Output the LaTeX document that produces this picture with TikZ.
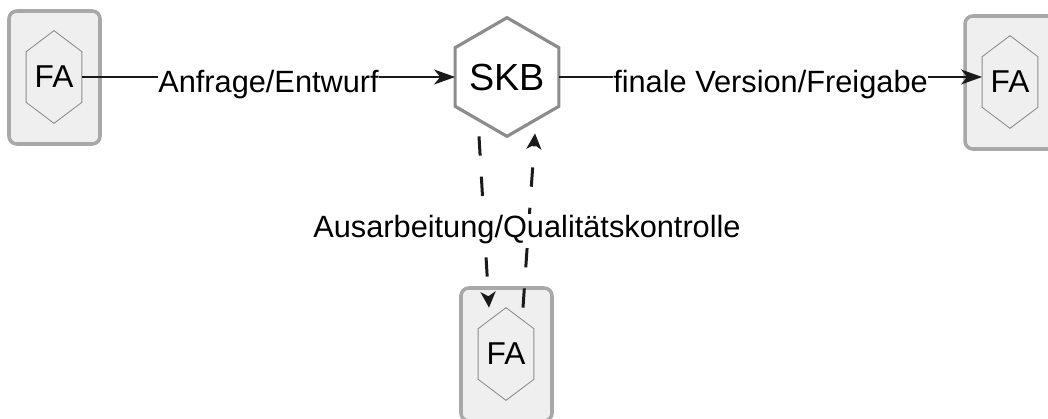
\documentclass[tikz,border=0pt]{standalone}
\usepackage{fontspec}
\setsansfont{Liberation Sans}
\usetikzlibrary{arrows.meta,calc,backgrounds}
\definecolor{boxF}{HTML}{EFEFEF}
\definecolor{boxB}{HTML}{A8A8A8}
\definecolor{hexB}{HTML}{8C8C8C}
\definecolor{edgeC}{HTML}{1A1A1A}

\begin{document}
\begin{tikzpicture}[x=0.02cm, y=-0.02cm, font=\sffamily,
  fabox/.style={fill=boxF, draw=boxB, line width=2pt, rounded corners=4.5pt},
  fahex/.style={draw=hexB, line width=0.5pt},
  skbhex/.style={draw=hexB, line width=1.8pt, fill=white},
  fatext/.style={minimum width=1.1cm, minimum height=1.84cm, inner sep=0pt,
    font=\sffamily\fontsize{18}{18}\selectfont},
  skbtext/.style={minimum width=2.06cm, minimum height=2.36cm, inner sep=0pt,
    font=\sffamily\fontsize{21.5}{21.5}\selectfont},
  flow/.style={-{Stealth[length=12pt,width=8.5pt,inset=3.5pt]}, line width=1.1pt, draw=edgeC},
  loopflow/.style={-{Stealth[length=9pt,width=8.5pt,inset=2.5pt]}, draw=edgeC,
    line width=1.7pt, dash pattern=on 11pt off 12pt},
  lbl/.style={font=\sffamily\fontsize{17.5}{17.5}\selectfont, fill=white, inner sep=0pt},
  ]
\useasboundingbox (0,0) rectangle (1048,419);

% === nodes
\node[fatext]  (fa1) at (54,77)   {FA};
\node[skbtext] (skb) at (507,77)  {SKB};
\node[fatext]  (fa2) at (1010,82) {FA};
\node[fatext]  (fa3) at (506,354) {FA};

% === FA frames and hexagons
\begin{scope}[on background layer]
\foreach \n in {fa1,fa2,fa3} {
  \draw[fabox] ($(\n)+(-45,-66)$) rectangle ($(\n)+(46,67)$);
  \draw[fahex] (\n.north) -- ($(\n.north east)+(0,21)$) -- ($(\n.south east)+(0,-21)$)
    -- (\n.south) -- ($(\n.south west)+(0,-21)$) -- ($(\n.north west)+(0,21)$) -- cycle;}
% === SKB hexagon
\draw[skbhex] (skb.north) -- ($(skb.north east)+(0,30)$) -- ($(skb.south east)+(0,-30)$)
  -- (skb.south) -- ($(skb.south west)+(0,-30)$) -- ($(skb.north west)+(0,30)$) -- cycle;
\end{scope}

% === main flow
\draw[flow] (fa1.east) -- node[lbl, yshift=-4.5pt] {Anfrage/Entwurf} (fa1.east -| skb.west);
\draw[flow] (skb.east) -- node[lbl, yshift=-4.5pt] {finale Version/Freigabe} (skb.east -| fa2.west);

% === loop to the lower FA
\draw[loopflow] ($(skb.south)+(-28,0)$) -- ($(fa3.north)+(-17,0)$);
\draw[loopflow] ($(fa3.north)+(17,0)$) -- ($(skb.south)+(28,-3)$);
\node[lbl, inner sep=1pt] (qk) at (527,230) {Ausarbeitung/Qualitätskontrolle};

\end{tikzpicture}
\end{document}
